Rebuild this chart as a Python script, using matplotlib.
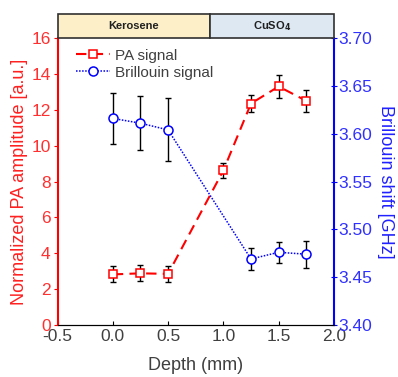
import numpy as np
import matplotlib.pyplot as plt
from matplotlib.patches import Rectangle

plt.rcParams['font.family'] = ['Liberation Sans', 'DejaVu Sans']

# PA signal (left axis)
depth_pa = [0.0, 0.25, 0.5, 1.0, 1.25, 1.5, 1.75]
pa = [2.82, 2.88, 2.85, 8.62, 12.35, 13.3, 12.5]
pa_err = [0.45, 0.45, 0.45, 0.4, 0.45, 0.65, 0.6]

# Brillouin signal (right axis)
depth_br = [0.0, 0.25, 0.5, 1.25, 1.5, 1.75]
brillouin = [3.616, 3.611, 3.604, 3.469, 3.476, 3.474]
br_err = [0.027, 0.028, 0.033, 0.012, 0.011, 0.014]

regions = ['Kerosene', 'CuSO$_\\mathbf{4}$']
region_edges = [-0.5, 0.875, 2.0]
region_colors = ['#fdf0c9', '#dde8f3']

gray = '#404040'

fig = plt.figure(figsize=(3.98, 3.77), dpi=100)
ax = fig.add_axes([0.1445, 0.138, 0.6945, 0.761])
ax2 = ax.twinx()

ax.errorbar(depth_pa, pa, yerr=pa_err, fmt='none', ecolor='black',
            elinewidth=1, capsize=2.5, capthick=1, zorder=2)
l1, = ax.plot(depth_pa, pa, color='red', linestyle=(0, (5, 3)), linewidth=1.5,
              marker='s', markersize=6, markerfacecolor='white',
              markeredgecolor='red', markeredgewidth=1.1, zorder=3)

ax2.errorbar(depth_br, brillouin, yerr=br_err, fmt='none', ecolor='black',
             elinewidth=1, capsize=2.5, capthick=1, zorder=2)
l2, = ax2.plot(depth_br, brillouin, color='blue', linestyle=(0, (1, 1)), linewidth=1.1,
               marker='o', markersize=6.5, markerfacecolor='white',
               markeredgecolor='blue', markeredgewidth=1.1, zorder=3)

ax.set_xlim(-0.5, 2.0)
ax.set_ylim(0, 16)
ax2.set_ylim(3.40, 3.70)
ax.set_xticks(np.arange(-0.5, 2.01, 0.5))
ax.set_xticklabels(['-0.5', '0.0', '0.5', '1.0', '1.5', '2.0'])
ax.set_yticks(np.arange(0, 17, 2))
ax2.set_yticks(np.arange(3.40, 3.701, 0.05))
ax2.set_yticklabels(['%.2f' % v for v in np.arange(3.40, 3.701, 0.05)])

for a in (ax, ax2):
    a.spines['top'].set_visible(False)
ax.spines['left'].set_color('red')
ax.spines['left'].set_linewidth(1.5)
ax2.spines['right'].set_color('blue')
ax2.spines['right'].set_linewidth(1.5)
ax2.spines['left'].set_visible(False)
ax.spines['right'].set_visible(False)
ax.spines['bottom'].set_color('black')

ax.tick_params(axis='x', direction='in', length=3, colors='black',
               labelcolor=gray, labelsize=12.5, pad=3)
ax.tick_params(axis='y', direction='out', length=3, colors='red',
               labelcolor='#ff3030', labelsize=12.5, pad=2)
ax2.tick_params(axis='y', direction='inout', length=4, colors='blue',
                labelcolor='#3030ff', labelsize=12.5, pad=1)

ax.set_xlabel('Depth (mm)', fontsize=13, color=gray, labelpad=9)
ax.set_ylabel('Normalized PA amplitude [a.u.]', fontsize=13, color='#ff2020', labelpad=2)
ax2.set_ylabel('Brillouin shift [GHz]', fontsize=13, color='#2020ff',
               rotation=270, labelpad=16)

ax.legend([l1, l2], ['PA signal', 'Brillouin signal'], loc='upper left',
          frameon=False, fontsize=11, labelcolor=gray, handlelength=2.2,
          handletextpad=0.3, borderaxespad=0.3, labelspacing=0.2,
          bbox_to_anchor=(0.03, 1.0))

# header band with medium labels
hax = fig.add_axes([0.1445, 0.899, 0.6945, 0.0637])
hax.set_xlim(-0.5, 2.0)
hax.set_ylim(0, 1)
hax.axis('off')
for i, name in enumerate(regions):
    x0, x1 = region_edges[i], region_edges[i + 1]
    hax.add_patch(Rectangle((x0, 0), x1 - x0, 1, facecolor=region_colors[i],
                            edgecolor='#303030', linewidth=1.2, clip_on=False))
    hax.text((x0 + x1) / 2, 0.5, name, ha='center', va='center',
             fontsize=8, fontweight='bold', color='#202020')

fig.savefig('out.png', dpi=100)
